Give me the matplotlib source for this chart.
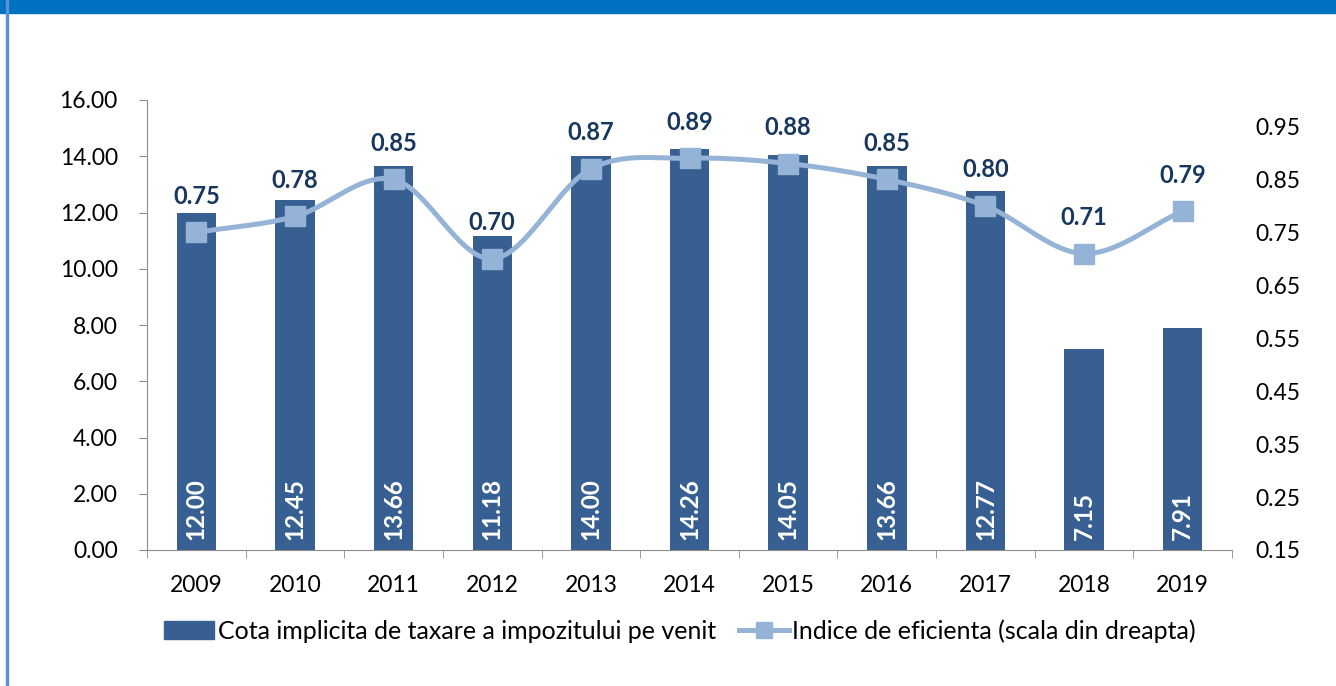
import numpy as np
import matplotlib
matplotlib.use("Agg")
import matplotlib.pyplot as plt
from matplotlib.patches import Rectangle
from matplotlib.lines import Line2D

years = ["2009", "2010", "2011", "2012", "2013", "2014", "2015", "2016", "2017", "2018", "2019"]
cota = [12.00, 12.45, 13.66, 11.18, 14.00, 14.26, 14.05, 13.66, 12.77, 7.15, 7.91]
indice = [0.75, 0.78, 0.85, 0.70, 0.87, 0.89, 0.88, 0.85, 0.80, 0.71, 0.79]

bar_color = "#375F92"
line_color = "#95B3D7"
label_color = "#17375E"

plt.rcParams["font.family"] = ["Lato", "DejaVu Sans"]


def smooth(xs, ys, n=30):
    # catmull-rom curve through the points (like excel "smoothed line")
    xs = np.asarray(xs, float)
    ys = np.asarray(ys, float)
    px = np.concatenate([[2 * xs[0] - xs[1]], xs, [2 * xs[-1] - xs[-2]]])
    py = np.concatenate([[2 * ys[0] - ys[1]], ys, [2 * ys[-1] - ys[-2]]])
    outx, outy = [], []
    t = np.linspace(0, 1, n)
    for i in range(1, len(px) - 2):
        for arr, out in ((px, outx), (py, outy)):
            p0, p1, p2, p3 = arr[i - 1], arr[i], arr[i + 1], arr[i + 2]
            seg = 0.5 * ((2 * p1) + (-p0 + p2) * t + (2 * p0 - 5 * p1 + 4 * p2 - p3) * t ** 2
                         + (-p0 + 3 * p1 - 3 * p2 + p3) * t ** 3)
            out.extend(seg)
    return np.array(outx), np.array(outy)


fig = plt.figure(figsize=(13.36, 6.86), dpi=100)
ax = fig.add_axes([147 / 1336, 1 - 550 / 686, (1232 - 147) / 1336, 450 / 686])

x = np.arange(len(years))
ax.bar(x, cota, width=0.4, color=bar_color, zorder=2)
ax.set_xlim(-0.5, len(years) - 0.5)
ax.set_ylim(0, 16)
ax.set_yticks(np.arange(0, 17, 2))
ax.set_yticklabels(["%.2f" % v for v in np.arange(0, 17, 2)], fontsize=16.5)
ax.set_xticks(x)
ax.set_xticklabels(years, fontsize=16.5)
ax.set_xticks(np.arange(-0.5, len(years), 1), minor=True)
ax.tick_params(axis="x", which="major", length=0, pad=18)
ax.tick_params(axis="x", which="minor", length=6, color="#8C8C8C", direction="out")
ax.tick_params(axis="y", length=6, color="#8C8C8C", direction="out", pad=15)
for s in ["top", "right"]:
    ax.spines[s].set_visible(False)
for s in ["left", "bottom"]:
    ax.spines[s].set_color("#8C8C8C")

for xi, v in zip(x, cota):
    ax.annotate("%.2f" % v, (xi, 0), xytext=(0, 7), textcoords="offset points",
                rotation=90, ha="center", va="bottom", color="white",
                fontsize=17.5, fontweight="bold", zorder=3)

ax2 = ax.twinx()
ax2.set_ylim(0.15, 1.0)
ticks2 = np.arange(0.15, 0.96, 0.1)
ax2.set_yticks(ticks2)
ax2.set_yticklabels(["%.2f" % v for v in ticks2], fontsize=16.5)
ax2.tick_params(axis="y", length=0, pad=17)
for s in ax2.spines.values():
    s.set_visible(False)

sx, sy = smooth(x, indice)
ax2.plot(sx, sy, color=line_color, lw=3.6, zorder=3, solid_capstyle="round")
ax2.plot(x, indice, ls="none", marker="s", ms=14, color=line_color, zorder=4)
for xi, v in zip(x, indice):
    ax2.annotate("%.2f" % v, (xi, v), xytext=(0, 26), textcoords="offset points",
                 ha="center", va="center", color=label_color,
                 fontsize=17, fontweight="bold")

handles = [Rectangle((0, 0), 1, 1, color=bar_color),
           Line2D([], [], color=line_color, lw=3.6, marker="s", ms=12)]
fig.legend(handles, ["Cota implicita de taxare a impozitului pe venit",
                     "Indice de eficienta (scala din dreapta)"],
           loc="center", bbox_to_anchor=(680 / 1336, 1 - 631 / 686), ncol=2,
           frameon=False, fontsize=18, handlelength=2.0, handletextpad=0.15,
           columnspacing=0.9)

# frame decoration: blue band on top and thin line on the left
fig.add_artist(Rectangle((0, 1 - 13 / 686), 1, 13 / 686, transform=fig.transFigure,
                         color="#0070C0", zorder=10))
fig.add_artist(Rectangle((6 / 1336, 0), 2 / 1336, 1, transform=fig.transFigure,
                         color="#5B8FD9", zorder=10))

fig.savefig("out.png", dpi=100)
